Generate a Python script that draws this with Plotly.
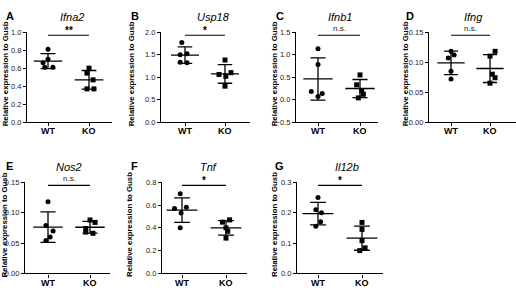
import plotly.graph_objects as go
import numpy as np

W, H = 516, 291

genes = ["Ifna2", "Usp18", "Ifnb1", "Ifng", "Nos2", "Tnf", "Il12b"]
letters = ["A", "B", "C", "D", "E", "F", "G"]
groups = ["WT", "KO"]
sig_labels = ["**", "*", "n.s.", "n.s.", "n.s.", "*", "*"]

# data (relative expression to Gusb)
ifna2_wt = [0.81, 0.70, 0.66, 0.61, 0.61]
ifna2_ko = [0.60, 0.545, 0.47, 0.37, 0.37]
usp18_wt = [1.77, 1.52, 1.50, 1.33, 1.32]
usp18_ko = [1.38, 1.10, 1.06, 1.02, 0.80]
ifnb1_wt = [1.13, 0.78, 0.18, 0.14, 0.07]
ifnb1_ko = [0.55, 0.33, 0.20, 0.12, 0.04]
ifng_wt = [0.118, 0.112, 0.107, 0.085, 0.072]
ifng_ko = [0.118, 0.110, 0.080, 0.074, 0.065]
nos2_wt = [0.118, 0.079, 0.070, 0.060, 0.054]
nos2_ko = [0.088, 0.084, 0.074, 0.068, 0.066]
tnf_wt = [0.70, 0.58, 0.57, 0.53, 0.40]
tnf_ko = [0.47, 0.45, 0.40, 0.37, 0.31]
il12b_wt = [0.25, 0.21, 0.20, 0.17, 0.155]
il12b_ko = [0.168, 0.145, 0.108, 0.084, 0.075]

wt_data = [ifna2_wt, usp18_wt, ifnb1_wt, ifng_wt, nos2_wt, tnf_wt, il12b_wt]
ko_data = [ifna2_ko, usp18_ko, ifnb1_ko, ifng_ko, nos2_ko, tnf_ko, il12b_ko]

# y axis ranges and ticks
y_ranges = [[0, 1.0], [0, 2.0], [-0.5, 1.5], [0, 0.15], [0, 0.15], [0, 0.8], [0, 0.3]]
y_dticks = [0.2, 0.5, 0.5, 0.05, 0.05, 0.2, 0.1]
y_formats = [".1f", ".1f", ".1f", ".2f", ".2f", ".1f", ".1f"]

# horizontal scatter offsets of the dots (category units)
wt_offsets = [[0, 0, -0.12, -0.08, 0.12], [-0.08, 0.05, -0.12, -0.12, 0.05],
              [0, 0, -0.16, 0.1, 0], [0, 0.08, -0.07, 0, 0],
              [0.0, -0.05, 0.12, 0.05, -0.05], [-0.04, 0.1, -0.17, -0.02, -0.04],
              [0, -0.05, 0.08, 0.06, -0.05]]
ko_offsets = [[0, -0.05, 0.1, -0.05, 0.12], [0, 0.15, -0.15, 0.02, 0],
              [0, -0.08, 0.04, 0.08, -0.04], [0.13, 0, 0.06, 0.13, 0],
              [0.0, 0.12, -0.1, -0.1, 0.07], [0.08, -0.08, 0, 0.04, 0],
              [0, 0, 0, 0.07, -0.05]]

# panel geometry in pixels: left, right, wt_x, ko_x, top, bottom
panels = [
    (27, 112, 48, 89, 29, 122),
    (161, 250, 185, 225, 29, 122),
    (296, 378, 318, 360, 29, 122),
    (429, 516, 451, 490, 29, 122),
    (25, 110, 48, 90, 184, 278),
    (162, 247, 182, 226, 184, 278),
    (297, 383, 318, 362, 184, 278),
]
title_x = [72, 213, 340, 473, 69, 208, 347]
letter_x = [4, 129, 274, 404, 4, 129, 273]
ylab_x = [5, 131, 274, 405, 4.5, 130, 275]

FONT = "Liberation Sans, Arial, sans-serif"
MEAN_HALF = 0.35
CAP_HALF = 0.18

fig = go.Figure()
layout = dict(width=W, height=H, margin=dict(l=0, r=0, t=0, b=0),
              paper_bgcolor="white", plot_bgcolor="white", showlegend=False,
              annotations=[], shapes=[])

for i in range(7):
    left, right, xw, xk, top, bottom = panels[i]
    unit = xk - xw
    xr = [-(xw - left) / unit, 1 + (right - xk) / unit]
    yr = y_ranges[i]
    n = "" if i == 0 else str(i + 1)
    xa, ya = "x" + n, "y" + n
    layout["xaxis" + n] = dict(
        domain=[left / W, min(right / W, 1)], anchor=ya, range=xr,
        tickmode="array", tickvals=[0, 1], ticktext=groups, showticklabels=False,
        showline=True, linecolor="black", linewidth=1.3, ticks="outside",
        ticklen=3, tickwidth=1.3, tickcolor="black", showgrid=False, zeroline=False)
    layout["yaxis" + n] = dict(
        domain=[1 - bottom / H, 1 - top / H], anchor=xa, range=yr,
        dtick=y_dticks[i], tick0=yr[0], tickformat=y_formats[i],
        showline=True, linecolor="black", linewidth=1.3, ticks="outside",
        ticklen=3, tickwidth=1.3, tickcolor="black", showgrid=False, zeroline=False,
        tickfont=dict(family=FONT, size=7.5, color="#222"))

    # category labels under the x axis
    lab_y = bottom + (9 if top < 100 else 9.5)
    for g, name in enumerate(groups):
        layout["annotations"].append(dict(
            x=g, y=1 - lab_y / H, xref=xa, yref="paper", text="<b>" + name + "</b>",
            showarrow=False, xanchor="center", yanchor="middle",
            font=dict(family=FONT, size=9, color="black")))

    for g, (data, offs, sym, size) in enumerate([(wt_data[i], wt_offsets[i], "circle", 5),
                                                  (ko_data[i], ko_offsets[i], "square", 5)]):
        arr = np.array(data)
        m = arr.mean()
        sd = arr.std(ddof=1)
        # mean line + SD error bar
        xs = [g - MEAN_HALF, g + MEAN_HALF, None,
              g, g, None,
              g - CAP_HALF, g + CAP_HALF, None,
              g - CAP_HALF, g + CAP_HALF]
        ys = [m, m, None, m - sd, m + sd, None, m + sd, m + sd, None, m - sd, m - sd]
        fig.add_trace(go.Scatter(x=xs, y=ys, mode="lines", xaxis=xa, yaxis=ya,
                                 line=dict(color="black", width=1.3), cliponaxis=False,
                                 hoverinfo="skip"))
        fig.add_trace(go.Scatter(x=[g + o for o in offs], y=data, mode="markers",
                                 xaxis=xa, yaxis=ya, cliponaxis=False,
                                 marker=dict(symbol=sym, size=size, color="black",
                                             line=dict(width=0))))

    # significance bar
    ybar = yr[1] - 3.2 / (bottom - top) * (yr[1] - yr[0])
    fig.add_trace(go.Scatter(x=[0, 1], y=[ybar, ybar], mode="lines", xaxis=xa, yaxis=ya,
                             line=dict(color="black", width=1.1), cliponaxis=False,
                             hoverinfo="skip"))
    is_ns = sig_labels[i] == "n.s."
    layout["annotations"].append(dict(
        x=0.5, y=ybar, xref=xa, yref=ya, text=sig_labels[i], showarrow=False,
        yanchor="bottom", yshift=0 if is_ns else -3,
        font=dict(family=FONT, size=8 if is_ns else 10, color="#222" if is_ns else "black",
                  weight="normal" if is_ns else "bold")))
    # gene title
    layout["annotations"].append(dict(
        x=title_x[i] / W, y=1 - (top - 16) / H, xref="paper", yref="paper",
        text="<i>" + genes[i] + "</i>", showarrow=False, xanchor="center", yanchor="middle",
        font=dict(family=FONT, size=11, color="black")))
    # panel letter
    layout["annotations"].append(dict(
        x=letter_x[i] / W, y=1 - (top - 17) / H, xref="paper", yref="paper",
        text="<b>" + letters[i] + "</b>", showarrow=False, xanchor="left", yanchor="middle",
        font=dict(family=FONT, size=11, color="black")))
    # y axis label
    layout["annotations"].append(dict(
        x=ylab_x[i] / W, y=1 - ((top + bottom) / 2 - 3) / H, xref="paper", yref="paper",
        text="<b>Relative expression to Gusb</b>", showarrow=False, textangle=-90,
        xanchor="center", yanchor="middle",
        font=dict(family=FONT, size=7.8, color="black")))

fig.update_layout(**layout)
fig.write_html("out.html", config={"displayModeBar": False},
               post_script="document.body.style.margin='0';document.body.style.padding='0';")
